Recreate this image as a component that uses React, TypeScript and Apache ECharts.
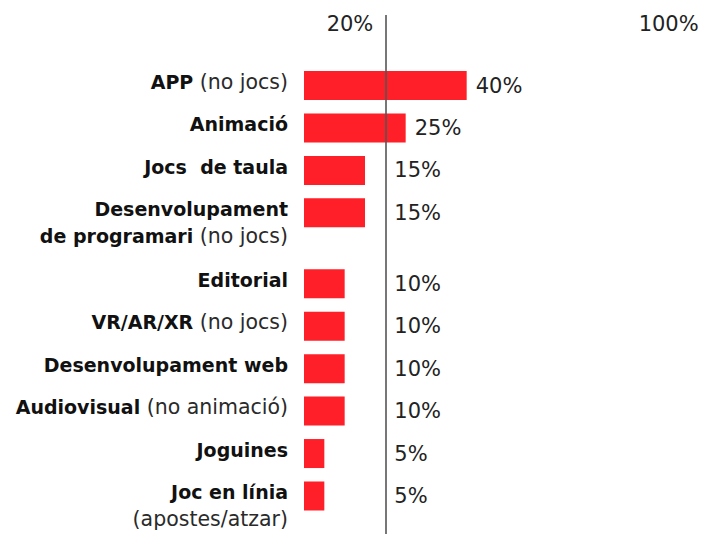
import React, { useEffect, useRef } from "react";
import * as echarts from "echarts";

// ---- data ----
const categories = [
  "APP",
  "Animació",
  "Jocs  de taula",
  "Desenvolupament\nde programari",
  "Editorial",
  "VR/AR/XR",
  "Desenvolupament web",
  "Audiovisual",
  "Joguines",
  "Joc en línia",
];
// qualifier shown in regular weight; a leading "\n" puts it on its own line
const qualifiers = [
  "(no jocs)",
  "",
  "",
  "(no jocs)",
  "",
  "(no jocs)",
  "",
  "(no animació)",
  "",
  "\n(apostes/atzar)",
];
const values = [40, 25, 15, 15, 10, 10, 10, 10, 5, 5];
const tickValues = [20, 100];
const referenceValue = 20;

// ---- style / layout ----
const FONT = "'DejaVu Sans', sans-serif";
const RED = "#ff1f29";
const BAR_H = 29;
const ROW_PX = 42.45;
const EXTRA_LINE = 0.67; // extra row units per additional label line
const GRID_TOP = 15;
const FIRST_ROW_Y = 85.5;
const H = 534;
const W = 712; // the 100% end of the scale sits just past the visible 705px

function labelLines(i: number): number {
  const q = qualifiers[i];
  return categories[i].split("\n").length + (q.startsWith("\n") ? 1 : 0);
}

function richLabel(i: number): string {
  const lines = categories[i].split("\n").map((l) => `{b|${l}}`);
  const q = qualifiers[i];
  if (q) {
    if (q.startsWith("\n")) lines.push(`{r|${q.slice(1)}}`);
    else lines[lines.length - 1] += `{r| ${q}}`;
  }
  return lines.join("\n");
}

export default function App() {
  const ref = useRef<HTMLDivElement>(null);
  useEffect(() => {
    if (!ref.current) return;
    const chart = echarts.init(ref.current, undefined, { renderer: "svg" });

    const positions: number[] = [];
    categories.forEach((_, i) => {
      if (i === 0) positions.push(0);
      else positions.push(positions[i - 1] + 1 + EXTRA_LINE * (labelLines(i - 1) - 1));
    });
    const yMin = -(FIRST_ROW_Y - GRID_TOP) / ROW_PX;
    const yMax = yMin + (H - GRID_TOP) / ROW_PX;

    const data = values.map((v, i) => [v, positions[i], i]);

    chart.setOption({
      animation: false,
      grid: { left: 304, right: 1.3, top: GRID_TOP, bottom: 0, containLabel: false },
      xAxis: {
        type: "value",
        min: 0,
        max: 100,
        position: "top",
        axisLine: { show: false },
        axisTick: { show: false },
        splitLine: { show: false },
        axisLabel: {
          show: true,
          inside: true,
          customValues: tickValues,
          formatter: (v: number) => `${v}%`,
          align: "right",
          verticalAlign: "middle",
          padding: [0, 12, 0, 0],
          margin: 9,
          fontFamily: FONT,
          fontSize: 21,
          color: "#222",
        },
      },
      yAxis: {
        type: "value",
        inverse: true,
        min: yMin,
        max: yMax,
        show: false,
      },
      series: [
        {
          type: "custom",
          z: 2,
          clip: false,
          encode: { x: 0, y: 1 },
          data,
          renderItem: (params: any, api: any) => {
            const v = api.value(0);
            const p = api.value(1);
            const i = api.value(2);
            const start = api.coord([0, p]);
            const end = api.coord([v, p]);
            const floor = api.coord([referenceValue, p]);
            return {
              type: "group",
              children: [
                {
                  type: "rect",
                  shape: { x: start[0], y: start[1] - BAR_H / 2, width: end[0] - start[0], height: BAR_H },
                  style: { fill: RED },
                },
                {
                  type: "text",
                  x: Math.max(end[0], floor[0]) + 9,
                  y: start[1],
                  style: {
                    text: `${v}%`,
                    fill: "#222",
                    fontSize: 21,
                    fontFamily: FONT,
                    align: "left",
                    verticalAlign: "middle",
                  },
                },
                {
                  type: "text",
                  x: start[0] - 16,
                  y: start[1] - 17,
                  style: {
                    text: richLabel(i),
                    align: "right",
                    verticalAlign: "top",
                    fontSize: 19,
                    fontFamily: FONT,
                    fill: "#111",
                    rich: {
                      b: { fontWeight: "bold", fontSize: 19, fontFamily: FONT, lineHeight: 26.5, fill: "#111" },
                      r: { fontWeight: "normal", fontSize: 20.5, fontFamily: FONT, lineHeight: 26.5, fill: "#2a2a2a" },
                    },
                  },
                },
              ],
            };
          },
        },
        {
          type: "line",
          z: 5,
          data: [],
          silent: true,
          markLine: {
            silent: true,
            symbol: "none",
            label: { show: false },
            lineStyle: { color: "#555", width: 1.6, type: "solid" },
            data: [{ xAxis: referenceValue }],
          },
        },
      ],
    });
    return () => chart.dispose();
  }, []);
  return (
    <div
      ref={ref}
      style={{ position: "fixed", left: 0, top: 0, width: W, height: H, background: "#fff" }}
    />
  );
}
